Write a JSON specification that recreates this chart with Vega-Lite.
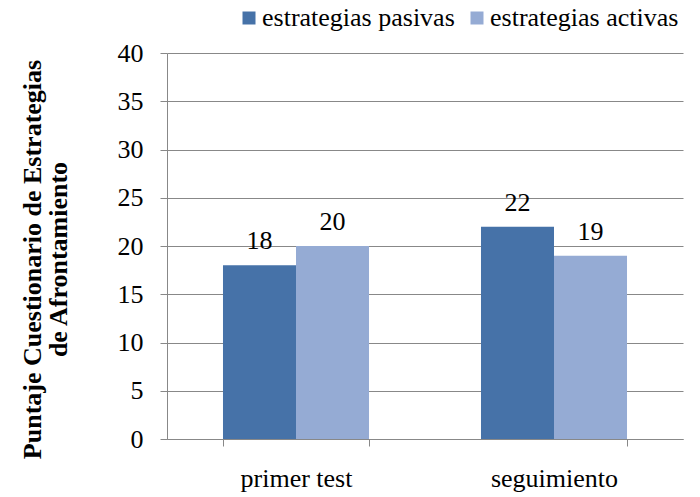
{
  "$schema": "https://vega.github.io/schema/vega-lite/v6.json",
  "width": 516,
  "height": 386,
  "autosize": "none",
  "padding": {"left": 167, "top": 53, "right": 17, "bottom": 58},
  "background": "white",
  "config": {
    "font": "Liberation Serif",
    "view": {"stroke": null}
  },
  "data": {
    "values": [
      {"grupo": "primer test", "estrategia": "estrategias pasivas", "valor": 18},
      {"grupo": "primer test", "estrategia": "estrategias activas", "valor": 20},
      {"grupo": "seguimiento", "estrategia": "estrategias pasivas", "valor": 22},
      {"grupo": "seguimiento", "estrategia": "estrategias activas", "valor": 19}
    ]
  },
  "encoding": {
    "x": {
      "field": "grupo", "type": "nominal", "sort": ["primer test", "seguimiento"],
      "scale": {"paddingInner": 0.434, "paddingOuter": 0.217},
      "axis": {
        "title": null, "labelAngle": 0, "labelFont": "Liberation Serif", "labelFontSize": 26,
        "labelColor": "black", "domainColor": "#888888", "tickColor": "#888888",
        "tickSize": 7, "tickBand": "extent", "labelPadding": 19
      }
    },
    "xOffset": {"field": "estrategia", "type": "nominal", "sort": ["estrategias pasivas", "estrategias activas"], "scale": {"paddingInner": 0, "paddingOuter": 0}},
    "y": {
      "field": "valor", "type": "quantitative",
      "scale": {"domain": [0, 40], "nice": false},
      "axis": {
        "values": [0, 5, 10, 15, 20, 25, 30, 35, 40],
        "title": ["Puntaje Cuestionario de Estrategias", "de Afrontamiento"],
        "titleFont": "Liberation Serif", "titleFontSize": 26, "titleFontWeight": "bold",
        "titleColor": "black", "titlePadding": 46, "titleLineHeight": 26, "titleY": 206,
        "labelFont": "Liberation Serif", "labelFontSize": 26, "labelColor": "black",
        "domainColor": "#888888", "tickColor": "#888888", "gridColor": "#888888",
        "tickSize": 7, "labelPadding": 17, "grid": true
      }
    }
  },
  "layer": [
    {
      "mark": {"type": "bar"},
      "encoding": {
        "color": {
          "field": "estrategia", "type": "nominal", "sort": ["estrategias pasivas", "estrategias activas"],
          "scale": {"domain": ["estrategias pasivas", "estrategias activas"], "range": ["#4672A8", "#95ABD4"]},
          "legend": {
            "title": null, "orient": "none", "direction": "horizontal",
            "legendX": 69, "legendY": -48,
            "symbolType": "square", "symbolSize": 169, "symbolStrokeWidth": 0,
            "labelFont": "Liberation Serif", "labelFontSize": 26, "labelColor": "black",
            "labelOffset": 0, "columnPadding": 9, "labelLimit": 0
          }
        }
      }
    },
    {
      "mark": {"type": "text", "dy": -24, "fontSize": 26, "font": "Liberation Serif", "color": "black"},
      "encoding": {"text": {"field": "valor", "type": "quantitative"}}
    }
  ]
}
